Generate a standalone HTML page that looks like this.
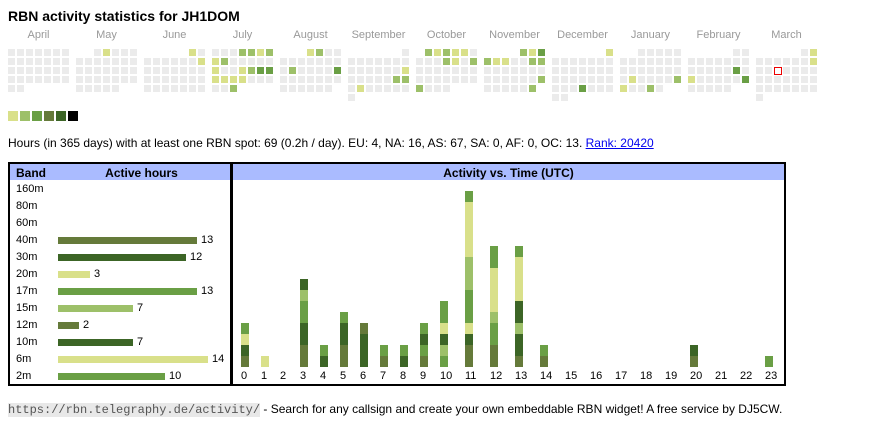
<!DOCTYPE html>
<html>
<head>
<meta charset="utf-8">
<style>
html,body{margin:0;padding:0;background:#fff;}
#w{position:relative;width:870px;height:424px;overflow:hidden;font-family:"Liberation Sans",Arial,sans-serif;font-size:11px;color:#000;}
.a{position:absolute;white-space:nowrap;line-height:13px;}
.g{position:absolute;height:7px;background:linear-gradient(90deg,transparent 7px,#fff 7px) 0 0/9px 9px,linear-gradient(180deg,transparent 7px,#fff 7px) 0 0/9px 9px,#ebebeb;}
.c{position:absolute;width:7px;height:7px;}
.c1{background:#d9e08a}.c2{background:#9dc069}.c3{background:#6a9f45}.c4{background:#657a3a}.c5{background:#3c6526}.c6{background:#000}
.m{position:absolute;top:29px;width:61px;text-align:center;color:#999;line-height:13px;}
.lg{position:absolute;top:111px;width:10px;height:10px;}
.box{position:absolute;top:162px;height:224px;border:2px solid #000;box-sizing:border-box;}
.hd{position:absolute;top:164px;height:16px;background:#aabbff;}
.hx{position:absolute;white-space:nowrap;top:166px;line-height:14px;font-size:12px;font-weight:bold;}
.bb{position:absolute;height:7px;left:58px;}
.b{position:absolute;bottom:57px;width:8px;display:flex;flex-direction:column-reverse;}
.b div{height:11px;width:8px;}
.h{position:absolute;top:370px;line-height:13px;}
</style>
</head>
<body>
<div id="w">
<div class="a" style="left:8px;top:8px;font-size:14px;font-weight:bold;line-height:16px;">RBN activity statistics for JH1DOM</div>

<!-- month labels -->
<div class="m" style="left:8px">April</div>
<div class="m" style="left:76px">May</div>
<div class="m" style="left:144px">June</div>
<div class="m" style="left:212px">July</div>
<div class="m" style="left:280px">August</div>
<div class="m" style="left:348px">September</div>
<div class="m" style="left:416px">October</div>
<div class="m" style="left:484px">November</div>
<div class="m" style="left:552px">December</div>
<div class="m" style="left:620px">January</div>
<div class="m" style="left:688px">February</div>
<div class="m" style="left:756px">March</div>

<!-- gray calendar grids -->
<div class="g" style="left:8px;top:49px;width:61px;height:34px"></div>
<div class="g" style="left:8px;top:85px;width:16px"></div>

<div class="g" style="left:94px;top:49px;width:43px"></div>
<div class="g" style="left:76px;top:58px;width:61px;height:25px"></div>
<div class="g" style="left:76px;top:85px;width:43px"></div>

<div class="g" style="left:189px;top:49px;width:16px"></div>
<div class="g" style="left:144px;top:58px;width:61px;height:34px"></div>

<div class="g" style="left:212px;top:49px;width:61px;height:34px"></div>
<div class="g" style="left:212px;top:85px;width:25px"></div>

<div class="g" style="left:307px;top:49px;width:34px"></div>
<div class="g" style="left:280px;top:58px;width:61px;height:25px"></div>
<div class="g" style="left:280px;top:85px;width:52px"></div>

<div class="g" style="left:402px;top:49px;width:7px"></div>
<div class="g" style="left:348px;top:58px;width:61px;height:34px"></div>
<div class="g" style="left:348px;top:94px;width:7px"></div>

<div class="g" style="left:425px;top:49px;width:52px"></div>
<div class="g" style="left:416px;top:58px;width:61px;height:25px"></div>
<div class="g" style="left:416px;top:85px;width:34px"></div>

<div class="g" style="left:520px;top:49px;width:25px"></div>
<div class="g" style="left:484px;top:58px;width:61px;height:25px"></div>
<div class="g" style="left:484px;top:85px;width:52px"></div>

<div class="g" style="left:606px;top:49px;width:7px"></div>
<div class="g" style="left:552px;top:58px;width:61px;height:34px"></div>
<div class="g" style="left:552px;top:94px;width:16px"></div>

<div class="g" style="left:638px;top:49px;width:43px"></div>
<div class="g" style="left:620px;top:58px;width:61px;height:25px"></div>
<div class="g" style="left:620px;top:85px;width:43px"></div>

<div class="g" style="left:733px;top:49px;width:16px"></div>
<div class="g" style="left:688px;top:58px;width:61px;height:25px"></div>
<div class="g" style="left:688px;top:85px;width:43px"></div>

<div class="g" style="left:801px;top:49px;width:16px"></div>
<div class="g" style="left:756px;top:58px;width:61px;height:34px"></div>
<div class="g" style="left:756px;top:94px;width:7px"></div>

<!-- colored cells -->
<div class="c c1" style="left:103px;top:49px"></div>
<div class="c c1" style="left:189px;top:49px"></div>
<div class="c c1" style="left:198px;top:58px"></div>

<div class="c c2" style="left:239px;top:49px"></div>
<div class="c c2" style="left:248px;top:49px"></div>
<div class="c c1" style="left:257px;top:49px"></div>
<div class="c c2" style="left:266px;top:49px"></div>
<div class="c c1" style="left:212px;top:58px"></div>
<div class="c c2" style="left:221px;top:58px"></div>
<div class="c c1" style="left:212px;top:67px"></div>
<div class="c c1" style="left:239px;top:67px"></div>
<div class="c c2" style="left:248px;top:67px"></div>
<div class="c c3" style="left:257px;top:67px"></div>
<div class="c c3" style="left:266px;top:67px"></div>
<div class="c c1" style="left:212px;top:76px"></div>
<div class="c c1" style="left:221px;top:76px"></div>
<div class="c c1" style="left:230px;top:76px"></div>
<div class="c c1" style="left:239px;top:76px"></div>
<div class="c c2" style="left:230px;top:85px"></div>

<div class="c c1" style="left:307px;top:49px"></div>
<div class="c c2" style="left:316px;top:49px"></div>
<div class="c c2" style="left:289px;top:67px"></div>
<div class="c c3" style="left:334px;top:67px"></div>

<div class="c c1" style="left:402px;top:67px"></div>
<div class="c c2" style="left:393px;top:76px"></div>
<div class="c c2" style="left:402px;top:76px"></div>
<div class="c c1" style="left:357px;top:85px"></div>

<div class="c c2" style="left:425px;top:49px"></div>
<div class="c c1" style="left:434px;top:49px"></div>
<div class="c c2" style="left:443px;top:49px"></div>
<div class="c c1" style="left:452px;top:49px"></div>
<div class="c c1" style="left:461px;top:49px"></div>
<div class="c c2" style="left:443px;top:58px"></div>
<div class="c c1" style="left:452px;top:58px"></div>
<div class="c c2" style="left:470px;top:58px"></div>
<div class="c c2" style="left:416px;top:85px"></div>

<div class="c c2" style="left:520px;top:49px"></div>
<div class="c c1" style="left:529px;top:49px"></div>
<div class="c c3" style="left:538px;top:49px"></div>
<div class="c c2" style="left:484px;top:58px"></div>
<div class="c c1" style="left:493px;top:58px"></div>
<div class="c c1" style="left:502px;top:58px"></div>
<div class="c c2" style="left:529px;top:58px"></div>
<div class="c c2" style="left:538px;top:58px"></div>
<div class="c c2" style="left:538px;top:76px"></div>
<div class="c c2" style="left:529px;top:85px"></div>

<div class="c c1" style="left:606px;top:49px"></div>
<div class="c c3" style="left:579px;top:85px"></div>

<div class="c c1" style="left:629px;top:76px"></div>
<div class="c c2" style="left:674px;top:76px"></div>
<div class="c c1" style="left:620px;top:85px"></div>
<div class="c c2" style="left:647px;top:85px"></div>

<div class="c c3" style="left:733px;top:67px"></div>
<div class="c c1" style="left:688px;top:76px"></div>
<div class="c c3" style="left:742px;top:76px"></div>

<div class="c c1" style="left:810px;top:49px"></div>
<div class="c c1" style="left:810px;top:58px"></div>
<div style="position:absolute;left:774px;top:67px;width:8px;height:8px;box-sizing:border-box;border:1px solid #e00;background:#fff"></div>

<!-- legend -->
<div class="lg c1" style="left:8px"></div>
<div class="lg c2" style="left:20px"></div>
<div class="lg c3" style="left:32px"></div>
<div class="lg c4" style="left:44px"></div>
<div class="lg c5" style="left:56px"></div>
<div class="lg c6" style="left:68px"></div>

<div class="a" style="left:8px;top:136px;font-size:12px;line-height:14px;">Hours (in 365 days) with at least one RBN spot: 69 (0.2h / day). EU: 4, NA: 16, AS: 67, SA: 0, AF: 0, OC: 13. <a href="#" style="color:#0000ee;text-decoration:underline">Rank: 20420</a></div>

<!-- tables -->
<div class="hd" style="left:10px;width:220px"></div>
<div class="hd" style="left:233px;width:551px"></div>
<div class="box" style="left:8px;width:224px"></div>
<div class="box" style="left:231px;width:555px"></div>

<div class="hx" style="left:16px">Band</div>
<div class="hx" style="left:60px;width:163px;text-align:center">Active hours</div>
<div class="hx" style="left:233px;width:551px;text-align:center">Activity vs. Time (UTC)</div>

<div class="a" style="left:16px;top:183px">160m</div>
<div class="a" style="left:16px;top:200px">80m</div>
<div class="a" style="left:16px;top:217px">60m</div>
<div class="a" style="left:16px;top:234px">40m</div>
<div class="a" style="left:16px;top:251px">30m</div>
<div class="a" style="left:16px;top:268px">20m</div>
<div class="a" style="left:16px;top:285px">17m</div>
<div class="a" style="left:16px;top:302px">15m</div>
<div class="a" style="left:16px;top:319px">12m</div>
<div class="a" style="left:16px;top:336px">10m</div>
<div class="a" style="left:16px;top:353px">6m</div>
<div class="a" style="left:16px;top:370px">2m</div>

<div class="bb c4" style="top:237px;width:139px"></div><div class="a" style="left:201px;top:234px">13</div>
<div class="bb c5" style="top:254px;width:128px"></div><div class="a" style="left:190px;top:251px">12</div>
<div class="bb c1" style="top:271px;width:32px"></div><div class="a" style="left:94px;top:268px">3</div>
<div class="bb c3" style="top:288px;width:139px"></div><div class="a" style="left:201px;top:285px">13</div>
<div class="bb c2" style="top:305px;width:75px"></div><div class="a" style="left:137px;top:302px">7</div>
<div class="bb c4" style="top:322px;width:21px"></div><div class="a" style="left:83px;top:319px">2</div>
<div class="bb c5" style="top:339px;width:75px"></div><div class="a" style="left:137px;top:336px">7</div>
<div class="bb c1" style="top:356px;width:150px"></div><div class="a" style="left:212px;top:353px">14</div>
<div class="bb c3" style="top:373px;width:107px"></div><div class="a" style="left:169px;top:370px">10</div>

<!-- activity bars -->
<div class="b" style="left:241px"><div class="c4"></div><div class="c5"></div><div class="c1"></div><div class="c3"></div></div>
<div class="b" style="left:261px"><div class="c1"></div></div>
<div class="b" style="left:300px"><div class="c4"></div><div class="c4"></div><div class="c5"></div><div class="c5"></div><div class="c3"></div><div class="c3"></div><div class="c2"></div><div class="c5"></div></div>
<div class="b" style="left:320px"><div class="c5"></div><div class="c3"></div></div>
<div class="b" style="left:340px"><div class="c4"></div><div class="c4"></div><div class="c5"></div><div class="c5"></div><div class="c3"></div></div>
<div class="b" style="left:360px"><div class="c5"></div><div class="c5"></div><div class="c5"></div><div class="c4"></div></div>
<div class="b" style="left:380px"><div class="c4"></div><div class="c3"></div></div>
<div class="b" style="left:400px"><div class="c5"></div><div class="c3"></div></div>
<div class="b" style="left:420px"><div class="c4"></div><div class="c3"></div><div class="c5"></div><div class="c3"></div></div>
<div class="b" style="left:440px"><div class="c3"></div><div class="c2"></div><div class="c5"></div><div class="c1"></div><div class="c3"></div><div class="c3"></div></div>
<div class="b" style="left:465px"><div class="c4"></div><div class="c4"></div><div class="c5"></div><div class="c1"></div><div class="c3"></div><div class="c3"></div><div class="c3"></div><div class="c2"></div><div class="c2"></div><div class="c2"></div><div class="c1"></div><div class="c1"></div><div class="c1"></div><div class="c1"></div><div class="c1"></div><div class="c3"></div></div>
<div class="b" style="left:490px"><div class="c4"></div><div class="c4"></div><div class="c3"></div><div class="c3"></div><div class="c2"></div><div class="c1"></div><div class="c1"></div><div class="c1"></div><div class="c1"></div><div class="c3"></div><div class="c3"></div></div>
<div class="b" style="left:515px"><div class="c4"></div><div class="c5"></div><div class="c5"></div><div class="c2"></div><div class="c5"></div><div class="c5"></div><div class="c1"></div><div class="c1"></div><div class="c1"></div><div class="c1"></div><div class="c3"></div></div>
<div class="b" style="left:540px"><div class="c4"></div><div class="c3"></div></div>
<div class="b" style="left:690px"><div class="c4"></div><div class="c5"></div></div>
<div class="b" style="left:765px"><div class="c3"></div></div>

<!-- hour labels -->
<div class="h" style="left:241px">0</div>
<div class="h" style="left:261px">1</div>
<div class="h" style="left:280px">2</div>
<div class="h" style="left:300px">3</div>
<div class="h" style="left:320px">4</div>
<div class="h" style="left:340px">5</div>
<div class="h" style="left:360px">6</div>
<div class="h" style="left:380px">7</div>
<div class="h" style="left:400px">8</div>
<div class="h" style="left:420px">9</div>
<div class="h" style="left:440px">10</div>
<div class="h" style="left:465px">11</div>
<div class="h" style="left:490px">12</div>
<div class="h" style="left:515px">13</div>
<div class="h" style="left:540px">14</div>
<div class="h" style="left:565px">15</div>
<div class="h" style="left:590px">16</div>
<div class="h" style="left:615px">17</div>
<div class="h" style="left:640px">18</div>
<div class="h" style="left:665px">19</div>
<div class="h" style="left:690px">20</div>
<div class="h" style="left:715px">21</div>
<div class="h" style="left:740px">22</div>
<div class="h" style="left:765px">23</div>

<!-- footer -->
<div class="a" style="left:8px;top:402px;line-height:15px;font-size:12px;"><span style="font-family:'Liberation Mono',monospace;font-size:12px;background:#e8e8e8;color:#555;">https://rbn.telegraphy.de/activity/</span> - Search for any callsign and create your own embeddable RBN widget! A free service by DJ5CW.</div>
</div>
</body>
</html>
